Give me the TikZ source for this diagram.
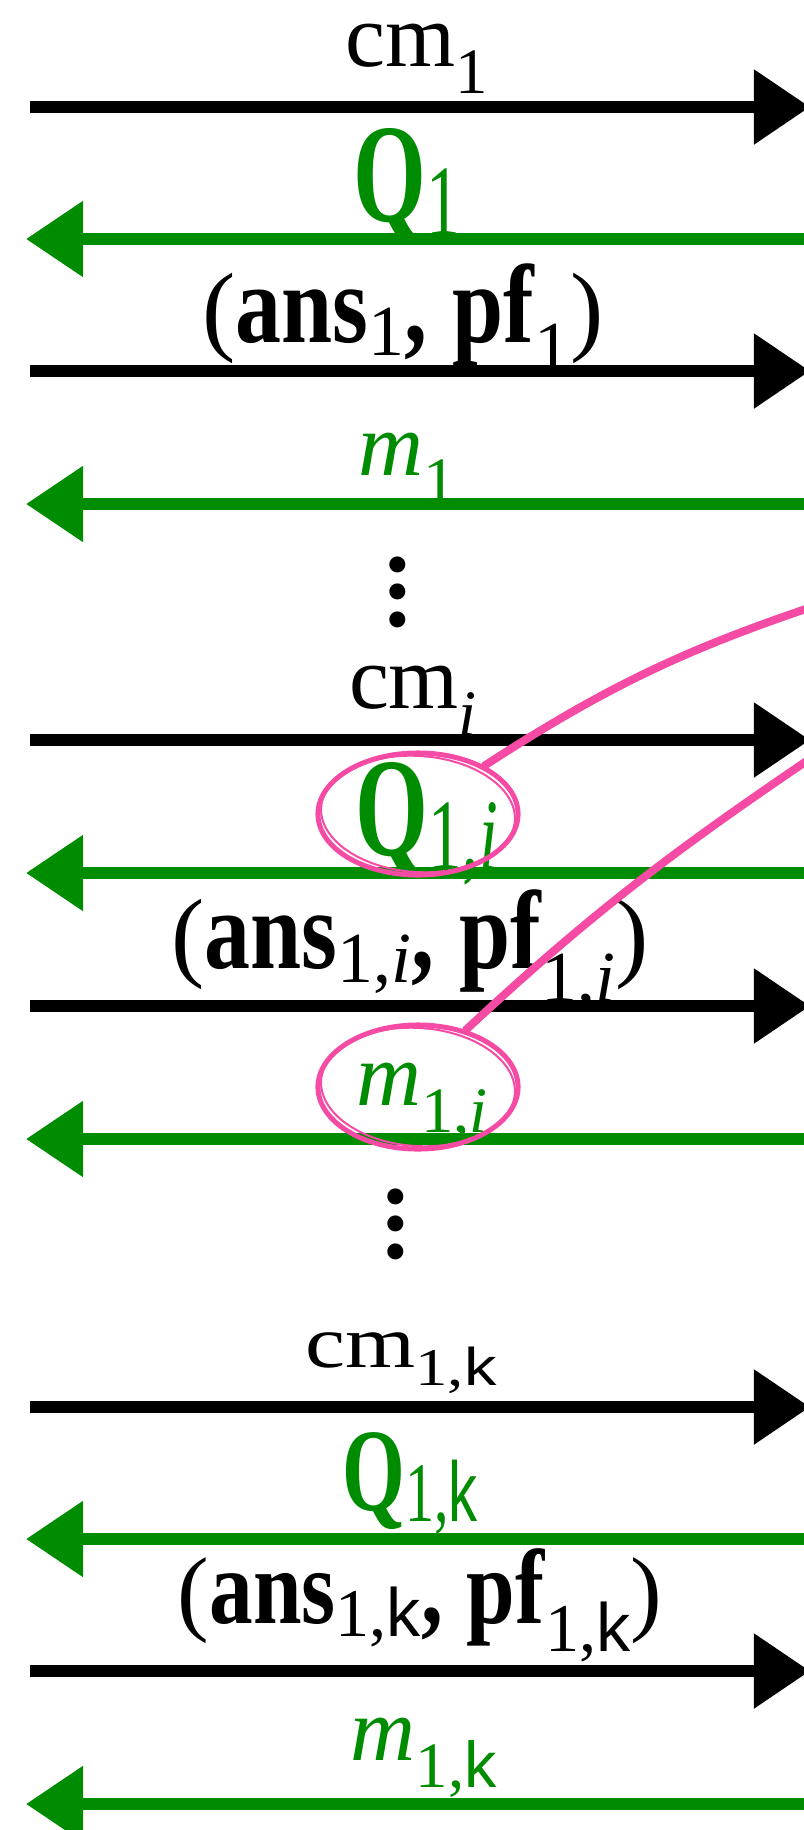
\documentclass[tikz,border=0pt]{standalone}
\usepackage{fontspec}
\setmainfont{Liberation Serif}
\newfontfamily\ksans{Liberation Sans}
\usetikzlibrary{arrows.meta,shapes.geometric}
\definecolor{msggreen}{RGB}{0,140,0}
\definecolor{notepink}{RGB}{245,75,165}
\tikzset{
	fwd/.style={-{Triangle[length=.56cm,width=.72cm]}, line width=.12cm, black},% message to the right
	bwd/.style={-{Triangle[length=.57cm,width=.73cm]}, line width=.12cm, msggreen},% message back to the left
	lab/.style={anchor=base, inner sep=0pt},
	ring/.style={ellipse, draw=notepink, line width=.05cm, inner sep=0pt},
	note/.style={notepink, line width=.08cm, line cap=round}
}
\newcommand{\lo}[2][.3em]{\raisebox{-#1}{\scalebox{.72}{\normalfont #2}}}
\newcommand{\kk}{{\ksans k}}
\newcommand{\bw}[1]{\scalebox{.92}[1.12]{\textbf{#1}}}
\newcommand{\vdotz}{\vbox{\baselineskip=7.7pt\hbox{.}\hbox{.}\hbox{.}}}

\begin{document}
\begin{tikzpicture}[x=0.01cm,y=-0.01cm]
            \useasboundingbox (0,0) rectangle (804,1830);
            \tikzset{cmfont/.style = {font=\fontsize{25.6}{30}\selectfont}}
            \tikzset{qfont/.style = {font=\fontsize{33.3}{40}\selectfont}}
            \tikzset{bffont/.style = {font=\fontsize{28.4}{34}\selectfont}}
            % ends of the arrows
            \coordinate (w1) at (30,107);  \coordinate (e1) at (810,107);
            \coordinate (w2) at (26,239);  \coordinate (e2) at (830,239);
            \coordinate (w3) at (30,371);  \coordinate (e3) at (810,371);
            \coordinate (w4) at (26,504);  \coordinate (e4) at (830,504);
            \coordinate (w5) at (30,740);  \coordinate (e5) at (810,740);
            \coordinate (w6) at (26,873);  \coordinate (e6) at (830,873);
            \coordinate (w7) at (30,1006); \coordinate (e7) at (810,1006);
            \coordinate (w8) at (26,1139); \coordinate (e8) at (830,1139);
            \coordinate (w9) at (30,1407); \coordinate (e9) at (810,1407);
            \coordinate (w10) at (26,1539); \coordinate (e10) at (830,1539);
            \coordinate (w11) at (30,1671); \coordinate (e11) at (810,1671);
            \coordinate (w12) at (26,1804); \coordinate (e12) at (830,1804);
            \draw[fwd] (w1) -- (e1);
            \draw[bwd] (e2) -- (w2);
            \draw[fwd] (w3) -- (e3);
            \draw[bwd] (e4) -- (w4);
            \draw[fwd] (w5) -- (e5);
            \draw[bwd] (e6) -- (w6);
            \draw[fwd] (w7) -- (e7);
            \draw[bwd] (e8) -- (w8);
            \draw[fwd] (w9) -- (e9);
            \draw[bwd] (e10) -- (w10);
            \draw[fwd] (w11) -- (e11);
            \draw[bwd] (e12) -- (w12);
            % labels
            \node[lab, cmfont] (cm1) at (417,66) {cm\lo{1}};
            \node[lab, qfont, msggreen] (q1) at (407,221) {\scalebox{.8}[1.2]{\textbf{Q}\lo[.1em]{1}}};
            \node[lab, bffont] (ans1) at (403,342) {(\bw{ans}\lo[.14em]{1}\bw{,} \bw{pf}\lo[.3em]{1})};
            \node[lab, cmfont, msggreen] (m1) at (407,475) {\textit{m}\lo{1}};
            \node[lab, font=\bfseries\fontsize{28}{8}\selectfont] (dots1) at (398,626) {\vdotz};
            \node[lab, cmfont] (cmi) at (413,708) {cm\lo{\textit{i}}};
            \node[lab, qfont, msggreen] (qi) at (427,855) {\scalebox{.8}[1.2]{\textbf{Q}\lo[.1em]{1,\textit{i}}}};
            \node[lab, bffont] (ansi) at (410,968) {(\bw{ans}\lo[.15em]{1,\textit{i}}\bw{,} \bw{pf}\lo[.34em]{1,\textit{i}})};
            \node[lab, cmfont, msggreen] (mi) at (422,1105) {\textit{m}\lo{1,\textit{i}}};
            \node[lab, font=\bfseries\fontsize{28}{8}\selectfont] (dots2) at (396,1258) {\vdotz};
            \node[lab, cmfont] (cmk) at (401,1367) {\scalebox{1}[.82]{cm\lo[.25em]{1,\kk}}};
            \node[lab, font=\fontsize{31}{37}\selectfont, msggreen] (qk) at (410,1510) {\scalebox{.74}[1.08]{\textbf{Q}\lo[.1em]{1,\kk}}};
            \node[lab, font=\fontsize{27}{32}\selectfont] (ansk) at (420,1623) {(\bw{ans}\lo[.14em]{1,\kk}\bw{,} \bw{pf}\lo[.3em]{1,\kk})};
            \node[lab, cmfont, msggreen] (mk) at (424,1760) {\textit{m}\lo{1,\kk}};
            % pink notes
            \node[ring, minimum width=2cm, minimum height=1.22cm] (ringQ) at (418,814) {};
            \node[ring, minimum width=2cm, minimum height=1.24cm] (ringM) at (418,1087) {};
            \draw[notepink, line width=.02cm, rotate around={-4:(ringQ.center)}] (ringQ.center) ellipse [x radius=.97cm, y radius=.58cm];
            \draw[notepink, line width=.02cm, rotate around={-4:(ringM.center)}] (ringM.center) ellipse [x radius=.97cm, y radius=.59cm];
            \coordinate (qtail) at (845,596);
            \coordinate (mtail) at (845,735);
            \draw[note] (ringQ.36) to[out=33,in=198] (qtail);
            \draw[note] (ringM.50) to[out=43,in=214] (mtail);
        \end{tikzpicture}
\end{document}
